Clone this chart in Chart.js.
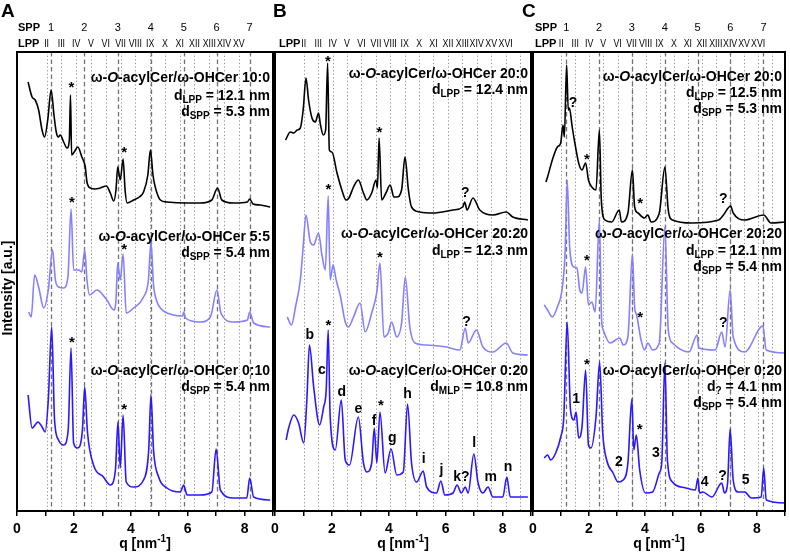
<!DOCTYPE html>
<html><head><meta charset="utf-8">
<script src="https://cdn.jsdelivr.net/npm/chart.js@4"></script>
<style>
html,body{margin:0;padding:0;background:#fff;}
#wrap{position:relative;width:790px;height:552px;overflow:hidden;}
canvas{position:absolute;left:0;top:0;}
</style></head><body>
<div id="wrap">
<canvas id="cA" width="790" height="552"></canvas>
<canvas id="cB" width="790" height="552"></canvas>
<canvas id="cC" width="790" height="552"></canvas>
</div>
<script>
// ---------- DATA (q [nm^-1], intensity [a.u.]) ----------
const A_10_0 = [[0.39,429],[0.53,414],[0.64,411],[0.76,401],[0.88,381],[0.97,374],[1.08,391],[1.2,421],[1.3,396],[1.38,379],[1.45,374],[1.52,376],[1.64,369],[1.76,363],[1.84,371],[1.88,416],[1.92,356],[2.01,359],[2.14,364],[2.28,354],[2.4,344],[2.46,329],[2.58,323],[2.75,322],[2.93,323],[3.14,325],[3.28,318],[3.4,310],[3.48,321],[3.54,344],[3.63,331],[3.73,352],[3.8,321],[3.87,308],[4.1,311],[4.3,314],[4.45,319],[4.6,336],[4.69,361],[4.78,336],[4.86,324],[5.04,311],[5.27,309],[6.0,308],[6.44,308],[6.85,311],[7.05,323],[7.2,311],[7.61,308],[8.1,309],[8.18,312],[8.3,307],[8.55,306],[8.9,304]];
const A_5_5 = [[0.41,199],[0.5,194],[0.62,236],[0.76,224],[0.94,203],[1.1,221],[1.25,261],[1.35,231],[1.46,224],[1.64,223],[1.79,234],[1.9,302],[1.99,241],[2.17,241],[2.28,239],[2.38,261],[2.46,231],[2.55,216],[2.81,221],[3.16,211],[3.4,201],[3.48,211],[3.54,248],[3.63,231],[3.73,257],[3.84,198],[4.1,203],[4.45,214],[4.62,231],[4.71,269],[4.8,226],[4.9,211],[5.04,203],[5.5,196],[5.82,195],[5.86,199],[5.92,193],[6.44,189],[6.8,194],[7.03,221],[7.17,198],[7.61,189],[8.1,191],[8.18,199],[8.32,188],[8.9,184]];
const A_0_10 = [[0.39,116],[0.53,83],[0.74,89],[0.88,84],[0.99,79],[1.1,111],[1.22,184],[1.32,91],[1.46,71],[1.64,66],[1.8,81],[1.9,163],[1.99,68],[2.13,63],[2.3,81],[2.38,124],[2.48,78],[2.69,46],[3.04,34],[3.28,26],[3.46,41],[3.55,89],[3.63,43],[3.73,96],[3.84,29],[4.1,24],[4.45,31],[4.63,61],[4.71,116],[4.8,61],[4.98,34],[5.27,23],[5.74,19],[5.86,26],[5.98,16],[6.44,16],[6.85,19],[7.0,62],[7.15,21],[7.61,13],[8.08,13],[8.18,33],[8.32,14],[8.9,11]];

const B_20_0 = [[0.37,371],[0.54,379],[0.66,378],[0.78,381],[0.89,383],[0.99,401],[1.09,433],[1.18,411],[1.3,393],[1.42,389],[1.53,398],[1.6,386],[1.7,376],[1.78,381],[1.85,448],[1.91,361],[2.0,359],[2.18,338],[2.35,321],[2.5,311],[2.6,313],[2.76,324],[2.93,331],[3.11,318],[3.23,311],[3.4,318],[3.55,331],[3.6,323],[3.66,373],[3.75,311],[3.9,318],[4.05,326],[4.18,314],[4.28,314],[4.45,321],[4.57,354],[4.69,321],[4.8,304],[5.09,299],[5.56,298],[6.26,301],[6.6,304],[6.67,309],[6.75,301],[6.96,313],[7.2,301],[7.66,296],[8.13,299],[8.36,294],[8.89,291]];
const B_20_20 = [[0.43,194],[0.58,186],[0.72,204],[0.89,231],[0.99,264],[1.09,296],[1.24,269],[1.36,266],[1.53,278],[1.65,256],[1.77,241],[1.87,315],[1.94,231],[2.04,246],[2.15,231],[2.29,216],[2.47,189],[2.58,184],[2.76,194],[2.99,208],[3.17,179],[3.4,198],[3.58,219],[3.69,248],[3.83,174],[3.98,178],[4.1,189],[4.28,174],[4.45,188],[4.58,234],[4.74,184],[4.92,168],[5.33,166],[6.03,164],[6.5,161],[6.69,183],[6.79,168],[7.08,181],[7.31,164],[7.66,159],[8.13,168],[8.36,158],[8.89,156]];
const B_0_20 = [[0.39,71],[0.48,83],[0.66,96],[0.83,88],[1.01,68],[1.12,111],[1.21,166],[1.36,124],[1.57,86],[1.71,104],[1.8,121],[1.87,181],[1.94,94],[2.12,61],[2.33,111],[2.47,51],[2.62,46],[2.93,94],[3.11,48],[3.23,39],[3.4,48],[3.49,83],[3.58,48],[3.69,99],[3.87,38],[4.08,62],[4.28,36],[4.51,39],[4.66,107],[4.8,48],[4.98,29],[5.21,40],[5.33,24],[5.68,18],[5.83,30],[5.97,16],[6.26,18],[6.4,26],[6.55,18],[6.69,24],[6.79,18],[6.99,57],[7.14,28],[7.31,18],[7.49,24],[7.66,14],[8.01,14],[8.15,34],[8.27,14],[8.89,14]];

const C_20_0 = [[0.46,329],[0.52,334],[0.69,351],[0.87,364],[0.99,368],[1.07,386],[1.12,374],[1.2,446],[1.26,401],[1.3,403],[1.4,384],[1.52,364],[1.63,348],[1.75,341],[1.88,348],[1.98,331],[2.1,324],[2.25,321],[2.37,381],[2.44,311],[2.57,291],[2.81,289],[3.08,301],[3.16,289],[3.39,298],[3.55,341],[3.63,304],[3.75,298],[3.98,293],[4.1,296],[4.22,289],[4.51,298],[4.71,344],[4.83,301],[4.98,291],[5.68,288],[6.63,291],[6.8,296],[7.06,305],[7.15,298],[7.56,291],[8.24,296],[8.5,288],[9.0,289]];
const C_20_20 = [[0.4,206],[0.52,201],[0.69,194],[0.87,204],[1.05,224],[1.15,261],[1.22,331],[1.31,264],[1.46,244],[1.57,243],[1.67,221],[1.75,218],[1.88,244],[1.98,206],[2.1,209],[2.22,199],[2.37,291],[2.45,191],[2.51,181],[2.75,168],[3.1,173],[3.22,166],[3.39,174],[3.55,257],[3.63,204],[3.7,196],[3.86,171],[3.98,161],[4.1,168],[4.27,161],[4.51,168],[4.71,284],[4.83,181],[4.98,168],[5.57,159],[5.86,176],[5.92,163],[6.51,161],[6.74,179],[6.86,164],[7.04,221],[7.15,174],[7.56,159],[8.21,185],[8.33,161],[9.03,158]];
const C_0_20 = [[0.4,53],[0.52,56],[0.63,51],[0.81,58],[0.99,74],[1.1,94],[1.22,189],[1.34,101],[1.46,91],[1.54,99],[1.63,73],[1.75,84],[1.88,141],[1.98,66],[2.07,63],[2.25,94],[2.38,149],[2.49,78],[2.63,51],[2.86,38],[3.04,29],[3.22,31],[3.39,48],[3.53,112],[3.6,61],[3.69,76],[3.81,41],[4.02,18],[4.27,19],[4.51,38],[4.6,49],[4.71,148],[4.8,51],[4.98,29],[5.45,23],[5.8,21],[5.89,33],[5.95,18],[6.06,19],[6.39,14],[6.74,28],[6.84,18],[6.95,28],[7.04,82],[7.15,31],[7.33,19],[7.56,19],[7.8,13],[8.15,14],[8.24,43],[8.33,11],[9.03,8]];

// reference line positions (q)
const SPP_A = [1.2,2.37,3.54,4.7,5.86,7.02,8.18];
const LPP_A = [1.04,1.56,2.08,2.6,3.12,3.64,4.16,4.68,5.2,5.72,6.24,6.76,7.28,7.8];
const LPP_B = [1.01,1.52,2.03,2.53,3.04,3.55,4.05,4.56,5.07,5.57,6.08,6.59,7.09,7.6,8.11,8.62];
const SPP_C = [1.19,2.36,3.53,4.71,5.88,7.05,8.23];
const LPP_C = [1.01,1.51,2.01,2.51,3.02,3.52,4.02,4.52,5.03,5.53,6.03,6.53,7.04,7.54,8.04,8.55];
const SPP_LABELS = ['1','2','3','4','5','6','7'];
const LPP_LABELS_A = ['II','III','IV','V','VI','VII','VIII','IX','X','XI','XII','XIII','XIV','XV'];
const LPP_LABELS_BC = ['II','III','IV','V','VI','VII','VIII','IX','X','XI','XII','XIII','XIV','XV','XVI'];
const X_TICK_LABELS = ['0','','2','','4','','6','','8',''];

// text labels
const TXT_A = [['ω-O-acylCer/ω-OHCer 10:0','d_LPP = 12.1 nm','d_SPP = 5.3 nm'],['ω-O-acylCer/ω-OHCer 5:5','d_SPP = 5.4 nm'],['ω-O-acylCer/ω-OHCer 0:10','d_SPP = 5.4 nm']];
const TXT_B = [['ω-O-acylCer/ω-OHCer 20:0','d_LPP = 12.4 nm'],['ω-O-acylCer/ω-OHCer 20:20','d_LPP = 12.3 nm'],['ω-O-acylCer/ω-OHCer 0:20','d_MLP = 10.8 nm']];
const TXT_C = [['ω-O-acylCer/ω-OHCer 20:0','d_LPP = 12.5 nm','d_SPP = 5.3 nm'],['ω-O-acylCer/ω-OHCer 20:20','d_LPP = 12.1 nm','d_SPP = 5.4 nm'],['ω-O-acylCer/ω-OHCer 0:20','d_? = 4.1 nm','d_SPP = 5.4 nm']];

// peak markers [q, intensity, text]
const MARKS_A = [[1.91,426,'*'],[3.77,361,'*'],[1.93,311,'*'],[3.77,264,'*'],[1.93,171,'*'],[3.77,104,'*']];
const MARKS_B = [[1.86,452,'*'],[3.67,381,'*'],[6.69,318,'?'],[1.88,324,'*'],[3.69,256,'*'],[6.73,189,'?'],
  [1.88,188,'*'],[1.22,176,'b'],[1.65,141,'c'],[2.35,119,'d'],[2.93,102,'e'],[3.48,90,'f'],[3.72,108,'*'],[4.12,73,'g'],[4.66,117,'h'],[5.23,52,'i'],[5.85,41,'j'],[6.55,34,'k?'],[7.0,68,'l'],[7.58,34,'m'],[8.19,44,'n']];
const MARKS_C = [[1.43,408,'?'],[1.93,354,'*'],[3.83,310,'*'],[6.8,312,'?'],[1.93,253,'*'],[3.83,196,'*'],[6.8,188,'?'],
  [1.93,149,'*'],[1.54,112,'1'],[3.81,84,'*'],[3.07,49,'2'],[4.39,58,'3'],[6.13,29,'4'],[6.77,35,'?'],[7.59,31,'5']];

// ---------- drawing ----------
const FONT = '"Liberation Sans", Arial, Helvetica, sans-serif';
const COLORS = ['#000000','#8480ff','#2a18ff'];

function runs(s){
  const m = s.match(/^d_(\S+)(.*)$/);
  if (m) return [{t:'d'},{t:m[1],sub:true},{t:m[2]}];
  const i = s.indexOf('ω-O-');
  if (i >= 0) return [{t:s.slice(0,i+2)},{t:'O',it:true},{t:s.slice(i+3)}];
  return [{t:s}];
}
function drawRuns(ctx, s, xr, y, size){
  const rs = runs(s);
  let w = 0;
  rs.forEach(r => { r.f = (r.it?'italic ':'') + 'bold ' + (r.sub?Math.round(size*0.74):size) + 'px ' + FONT; ctx.font = r.f; r.w = ctx.measureText(r.t).width; w += r.w; });
  let x = xr - w;
  ctx.textAlign = 'left'; ctx.textBaseline = 'middle';
  rs.forEach(r => { ctx.font = r.f; ctx.fillText(r.t, x, y + (r.sub ? size*0.32 : 0)); x += r.w; });
}
function condensed(ctx, t, x, y, k){
  ctx.save(); ctx.translate(x, y); ctx.scale(k, 1); ctx.fillText(t, 0, 0); ctx.restore();
}

const panelPlugin = {
  id: 'panel',
  beforeDatasetsDraw(chart, args, o){
    const {ctx, chartArea:a} = chart; const x = chart.scales.x;
    ctx.save();
    ctx.strokeStyle = '#959595'; ctx.lineWidth = 1; ctx.setLineDash([1.3,2.3]);
    o.lpp.forEach(q => { const p = Math.round(x.getPixelForValue(q))+0.5; ctx.beginPath(); ctx.moveTo(p,a.top); ctx.lineTo(p,a.bottom); ctx.stroke(); });
    ctx.strokeStyle = '#727272'; ctx.lineWidth = 1.3; ctx.setLineDash([4.5,3]);
    o.spp.forEach(q => { const p = Math.round(x.getPixelForValue(q))+0.5; ctx.beginPath(); ctx.moveTo(p,a.top); ctx.lineTo(p,a.bottom); ctx.stroke(); });
    ctx.restore();
  },
  afterDraw(chart, args, o){
    const {ctx, chartArea:a} = chart; const x = chart.scales.x, y = chart.scales.y;
    ctx.save();
    ctx.strokeStyle = '#000'; ctx.lineWidth = 2; ctx.setLineDash([]);
    ctx.strokeRect(a.left, a.top, a.right-a.left, a.bottom-a.top);
    ctx.fillStyle = '#000';
    ctx.font = 'bold 19px ' + FONT; ctx.textAlign = 'left'; ctx.textBaseline = 'middle';
    ctx.fillText(o.letter, o.letterX, 12);
    ctx.textBaseline = 'middle';
    if (o.sppLabels){
      ctx.font = 'bold 11px ' + FONT; ctx.textAlign = 'left'; ctx.fillText('SPP', o.rowX, 28);
      ctx.font = '11px ' + FONT; ctx.textAlign = 'center';
      o.spp.forEach((q,k) => ctx.fillText(o.sppLabels[k], x.getPixelForValue(q), 28));
    }
    ctx.font = 'bold 11px ' + FONT; ctx.textAlign = 'left'; ctx.fillText('LPP', o.rowX, 44);
    ctx.font = '11px ' + FONT; ctx.textAlign = 'center';
    o.lppLabels.forEach((t,k) => condensed(ctx, t, x.getPixelForValue(o.lpp[k]), 44, 0.8));
    o.texts.forEach((lines, b) => lines.forEach((s, k) => drawRuns(ctx, s, a.right - 3, o.textY[b][k], 14)));
    o.marks.forEach(m => {
      const px = x.getPixelForValue(m[0]), py = y.getPixelForValue(m[1]);
      ctx.textAlign = 'center'; ctx.textBaseline = 'middle';
      if (m[2] === '*'){ ctx.font = 'bold 15px ' + FONT; ctx.fillText('*', px, py + 3); }
      else { ctx.font = 'bold 14px ' + FONT; ctx.fillText(m[2], px, py); }
    });
    const cx = (a.left + a.right)/2;
    const parts = [{t:'q [nm',s:14,dy:0},{t:'-1',s:10,dy:-5},{t:']',s:14,dy:0}];
    let w = 0; parts.forEach(p => { ctx.font = 'bold '+p.s+'px '+FONT; p.w = ctx.measureText(p.t).width; w += p.w; });
    let xx = cx - w/2; ctx.textAlign = 'left';
    parts.forEach(p => { ctx.font = 'bold '+p.s+'px '+FONT; ctx.fillText(p.t, xx, 544 + p.dy); xx += p.w; });
    if (o.yTitle){
      ctx.translate(8, 288); ctx.rotate(-Math.PI/2);
      ctx.font = 'bold 14px ' + FONT; ctx.textAlign = 'center'; ctx.textBaseline = 'middle';
      ctx.fillText('Intensity [a.u.]', 0, 0);
    }
    ctx.restore();
  }
};

function toPts(arr){ return arr.map(p => ({x:p[0], y:p[1]})); }

function makePanel(id, series, left, right, panelOpts){
  new Chart(document.getElementById(id), {
    type: 'line',
    data: { datasets: series.map((s,k) => ({ data: toPts(s), borderColor: COLORS[k], borderWidth: 1.6, pointRadius: 0, cubicInterpolationMode: 'monotone', fill: false, borderJoinStyle: 'round' })) },
    options: {
      responsive: false, animation: false, events: [],
      layout: { padding: { left: left, right: 790 - right, top: 52, bottom: 0 } },
      plugins: { legend: {display:false}, tooltip: {enabled:false}, panel: panelOpts },
      scales: {
        x: { type: 'linear', min: 0, max: 9,
             afterFit: s => { s.height = 41; },
             ticks: { stepSize: 1, autoSkip: false, maxRotation: 0, padding: 5, color: '#000',
                      font: { family: FONT, size: 14, weight: 'bold' },
                      callback: v => X_TICK_LABELS[Math.round(v)] },
             grid: { drawOnChartArea: false, drawTicks: true, tickLength: 5, color: '#000', lineWidth: 1.5 },
             border: { display: false } },
        y: { type: 'linear', min: 0, max: 459, display: false }
      }
    },
    plugins: [panelPlugin]
  });
}

makePanel('cA', [A_10_0, A_5_5, A_0_10], 17, 273, {
  letter:'A', letterX:1, rowX:18, spp:SPP_A, sppLabels:SPP_LABELS, lpp:LPP_A, lppLabels:LPP_LABELS_A,
  texts:TXT_A, textY:[[78,96,112],[237,253],[371,387]], marks:MARKS_A, yTitle:true });
makePanel('cB', [B_20_0, B_20_20, B_0_20], 275, 531, {
  letter:'B', letterX:273, rowX:279, spp:[], sppLabels:null, lpp:LPP_B, lppLabels:LPP_LABELS_BC,
  texts:TXT_B, textY:[[74,90],[234,251],[371,387]], marks:MARKS_B, yTitle:false });
makePanel('cC', [C_20_0, C_20_20, C_0_20], 533, 787, {
  letter:'C', letterX:522, rowX:535, spp:SPP_C, sppLabels:SPP_LABELS, lpp:LPP_C, lppLabels:LPP_LABELS_BC,
  texts:TXT_C, textY:[[77,93,109],[234,251,267],[371,387,403]], marks:MARKS_C, yTitle:false });
</script>
</body></html>
